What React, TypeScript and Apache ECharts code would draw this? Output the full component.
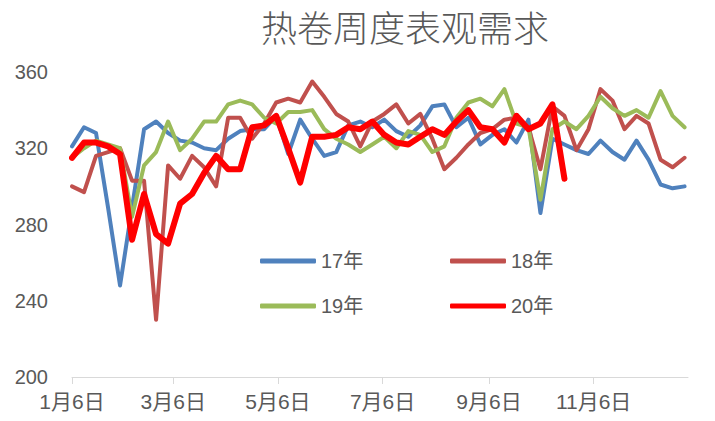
import React, { useEffect, useRef } from "react";
import * as echarts from "echarts";

const titleText = "热卷周度表观需求";
// day offsets (from Jan 6) of weekly observations
const weekCount = 52;
const tickDays = [0, 59, 120, 181, 243, 304];
const tickLabels = ["1月6日", "3月6日", "5月6日", "7月6日", "9月6日", "11月6日"];
const seriesNames = ["17年", "18年", "19年", "20年"];
const seriesColors = ["#4F81BD", "#C0504D", "#9BBB59", "#FF0000"];

const y17 = [
  321, 331, 328, 289, 248, 289, 330, 334, 328, 324, 323, 320, 319, 325, 329, 330,
  330, 337, 317, 335, 325, 316, 318, 332, 334, 331, 335, 329, 326, 332, 342, 343,
  331, 336, 322, 327, 330, 323, 335, 286, 325, 322, 319, 317, 324, 318, 314, 324,
  314, 301, 299, 300,
];
const y18 = [
  300, 297, 316, 318, 320, 303, 303, 230, 311, 304, 316, 310, 300, 336, 336, 325,
  333, 344, 346, 344, 355, 347, 338, 334, 321, 334, 338, 343, 333, 338, 325, 309,
  315, 322, 328, 330, 335, 336, 331, 309, 342, 337, 319, 330, 351, 345, 330, 337,
  333, 314, 310, 315,
];
const y19 = [
  315, 320, 324, 322, 320, 284, 311, 318, 334, 319, 325, 334, 334, 343, 345, 343,
  336, 333, 339, 339, 340, 330, 325, 322, 318, 322, 326, 320, 329, 327, 318, 321,
  336, 344, 346, 342, 351, 333, 331, 293, 330, 334, 330, 337, 347, 341, 337, 340,
  336, 350, 337, 331,
];
const y20 = [
  315, 323, 323, 321, 317, 272, 296, 275, 270, 291, 296, 307, 316, 309, 309, 331,
  332, 337, 320, 302, 326, 326, 327, 331, 330, 334, 327, 323, 322, 326, 330, 327,
  334, 340, 331, 330, 323, 337, 330, 333, 343, 304,
];

const allValues = [y17, y18, y19, y20];
const weekDays = Array.from({ length: weekCount }, (_, i) => i * 7);

export default function App() {
  const ref = useRef<HTMLDivElement>(null);
  useEffect(() => {
    document.body.style.margin = "0";
    if (!ref.current) return;
    const chart = echarts.init(ref.current, undefined, { renderer: "svg" });
    const textColor = "#595959";
    const series = allValues.map((vals, k) => ({
      name: seriesNames[k],
      type: "line",
      data: vals.map((v, i) => [weekDays[i], v]),
      symbol: "none",
      color: seriesColors[k],
      lineStyle: {
        width: k === 3 ? 6 : 4,
        color: seriesColors[k],
        join: "round",
        cap: "round",
      },
      z: 2 + k,
    }));
    const legendPos = [
      { left: 260, top: 251 },
      { left: 450, top: 251 },
      { left: 260, top: 296 },
      { left: 450, top: 296 },
    ];
    chart.setOption({
      animation: false,
      title: {
        text: titleText,
        left: 256,
        top: 3,
        textStyle: {
          fontFamily: "Noto Sans CJK SC",
          fontSize: 36,
          fontWeight: 300,
          color: textColor,
        },
      },
      legend: seriesNames.map((n, k) => ({
        data: [n],
        left: legendPos[k].left,
        top: legendPos[k].top,
        padding: 0,
        icon: "roundRect",
        itemWidth: 56,
        itemHeight: 5,
        selectedMode: false,
        textStyle: {
          fontFamily: "Liberation Sans, Noto Sans CJK SC",
          fontSize: 20,
          color: textColor,
        },
      })),
      grid: {
        left: 72,
        right: 27,
        top: 72,
        bottom: 44,
        outerBoundsMode: "none",
      },
      xAxis: {
        type: "value",
        min: 0,
        max: 359,
        axisLine: { show: true, lineStyle: { color: "#d9d9d9", width: 1 } },
        axisTick: {
          show: true,
          customValues: tickDays,
          length: 7,
          lineStyle: { color: "#d9d9d9" },
        },
        splitLine: { show: false },
        axisLabel: {
          customValues: tickDays,
          formatter: (v: number) => tickLabels[tickDays.indexOf(v)] ?? "",
          fontFamily: "Liberation Sans, Noto Sans CJK SC",
          fontSize: 21,
          color: textColor,
          margin: 14,
        },
      },
      yAxis: {
        type: "value",
        min: 200,
        max: 360,
        interval: 40,
        axisLine: { show: false },
        axisTick: { show: false },
        splitLine: { show: false },
        axisLabel: {
          fontFamily: "Liberation Sans",
          fontSize: 20,
          color: textColor,
          margin: 24,
        },
      },
      series,
    });
    return () => chart.dispose();
  }, []);
  return <div ref={ref} style={{ width: 715, height: 421 }} />;
}
